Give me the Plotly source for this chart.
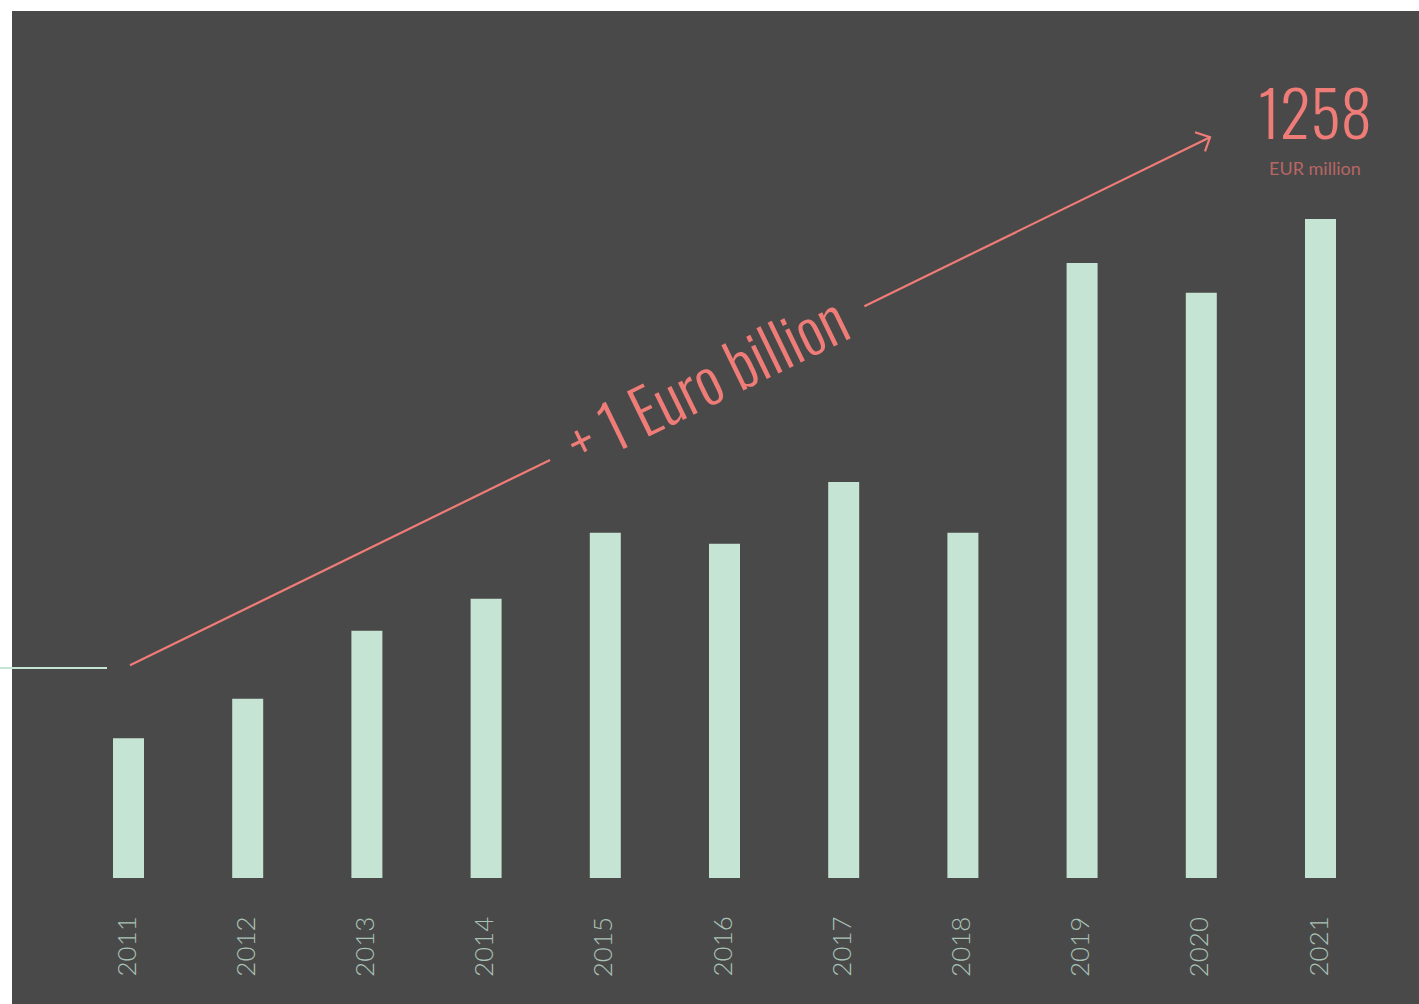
import plotly.graph_objects as go

# Annual volume, EUR million
years = ["2011", "2012", "2013", "2014", "2015", "2016", "2017", "2018", "2019", "2020", "2021"]
values = [267, 342, 472, 533, 659, 638, 756, 659, 1174, 1117, 1258]
headline_value = "1258"
headline_unit = "EUR million"
growth_label = "+ 1 Euro billion"
reference_level = 401

BG = "#494949"
BAR = "#c6e4d3"
ACCENT = "#f07c78"
UNIT_COL = "#b86664"
YEAR_COL = "#a9c2b6"
CONDENSED = "Oswald, Roboto Condensed, DejaVu Sans Condensed, sans-serif"

W, H = 1419, 1004
ML, MT = 12, 11
PW, PH = W - ML, H - MT

# pixel geometry of the value axis and category axis
base_px = 878
top_px = 219
k = (base_px - top_px) / max(values)          # px per EUR million
x0_px, step_px = 128.5, 119.2                 # first category centre, spacing

y_range = [-(H - base_px) / k, (base_px - MT) / k]
x_range = [(ML - x0_px) / step_px, (W - x0_px) / step_px]


def dx(px):
    return px / step_px


def dy(px):
    return -px / k


xs = list(range(len(years)))

fig = go.Figure()
fig.add_trace(go.Bar(
    x=xs, y=values, width=0.26,
    marker=dict(color=BAR, line=dict(width=0)),
    hoverinfo="x+y",
))

shapes = []
# reference level line running off the left edge
shapes.append(dict(
    type="line", xref="paper", yref="y",
    x0=(0 - ML) / PW, x1=(107 - ML) / PW,
    y0=reference_level, y1=reference_level,
    line=dict(color=BAR, width=2),
))

# growth arrow: from the first bar towards the latest value
ax0, ay0 = 0.0125, 406
ax1, ay1 = 9.073, 1414
gap_a = 0.389  # fraction where the label gap starts
gap_b = 0.680  # fraction where it ends


def lerp(t):
    return ax0 + (ax1 - ax0) * t, ay0 + (ay1 - ay0) * t


ga = lerp(gap_a)
gb = lerp(gap_b)
arrow_line = dict(color=ACCENT, width=2.2)
shapes.append(dict(type="line", xref="x", yref="y", x0=ax0, y0=ay0, x1=ga[0], y1=ga[1], line=arrow_line))
shapes.append(dict(type="line", xref="x", yref="y", x0=gb[0], y0=gb[1], x1=ax1, y1=ay1, line=arrow_line))
# open chevron head
shapes.append(dict(
    type="path", xref="x", yref="y",
    path=(f"M {ax1 + dx(-15)},{ay1 + dy(-5)} L {ax1},{ay1} "
          f"L {ax1 + dx(-5)},{ay1 + dy(14)}"),
    line=arrow_line,
))

annotations = []
for i, yr in enumerate(years):
    annotations.append(dict(
        x=i, y=(base_px - 947) / k, xref="x", yref="y", xshift=-3,
        text=yr, textangle=-90, showarrow=False,
        font=dict(family="Lato, DejaVu Sans", size=26, color=YEAR_COL, weight=300),
    ))

mid = lerp((gap_a + gap_b) / 2)
annotations.append(dict(
    x=mid[0], y=mid[1] + dy(-5), xref="x", yref="y", xshift=-2,
    text=growth_label, textangle=-26, showarrow=False,
    font=dict(family=CONDENSED, size=62, color=ACCENT, weight=300),
))
annotations.append(dict(
    x=(1315 - ML) / PW, y=1 - (111 - MT) / PH, xref="paper", yref="paper",
    text=headline_value, showarrow=False, xanchor="center", yanchor="middle",
    font=dict(family=CONDENSED, size=63, color=ACCENT, weight=300),
))
annotations.append(dict(
    x=(1315 - ML) / PW, y=1 - (168 - MT) / PH, xref="paper", yref="paper",
    text=headline_unit, showarrow=False, xanchor="center", yanchor="middle",
    font=dict(family="Lato, DejaVu Sans", size=18, color=UNIT_COL),
))

fig.update_layout(
    width=W, height=H,
    margin=dict(l=ML, r=0, t=MT, b=0, pad=0),
    paper_bgcolor="white",
    plot_bgcolor=BG,
    showlegend=False,
    xaxis=dict(range=x_range, visible=False, fixedrange=True),
    yaxis=dict(range=y_range, visible=False, fixedrange=True),
    shapes=shapes,
    annotations=annotations,
)

fig.write_html("out.html")
